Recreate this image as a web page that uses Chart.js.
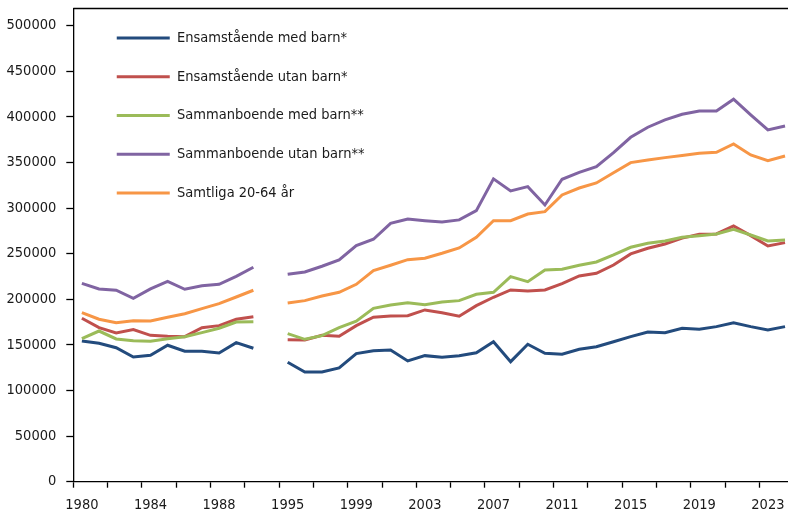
<!DOCTYPE html>
<html><head><meta charset="utf-8">
<script src="https://cdn.jsdelivr.net/npm/chart.js@4/dist/chart.umd.min.js"></script>
<style>html,body{margin:0;padding:0;background:#fff;overflow:hidden}#wrap{width:800px;height:515px}</style>
</head><body><div id="wrap"><canvas id="c" width="800" height="515"></canvas></div>
<script>
const years = ['1980','1981','1982','1983','1984','1985','1986','1987','1988','1989','1990','1991',
  '1995','1996','1997','1998','1999','2000','2001','2002','2003','2004','2005','2006','2007','2008','2009',
  '2010','2011','2012','2013','2014','2015','2016','2017','2018','2019','2020','2021','2022','2023','2024'];

const seriesNames = ['Ensamstående med barn*','Ensamstående utan barn*','Sammanboende med barn**','Sammanboende utan barn**','Samtliga 20-64 år'];

const ensamMedBarn = [154300,151800,146900,136700,138600,149600,143000,143000,141100,152400,146300,null,
  130900,120300,120300,124700,140400,143600,144400,132400,138200,136400,138200,141400,153500,131600,150700,
  140800,139700,145200,148000,153500,159000,164100,163400,168200,167100,170000,174300,170000,166300,170000];
const ensamUtanBarn = [179200,168900,163100,166700,160500,159400,159000,168900,171100,178100,180900,null,
  155700,155400,160500,159400,171100,180300,181700,182000,188300,185300,181400,193000,202200,210200,209100,
  210200,217100,225600,228500,237600,249700,255900,260600,267000,271300,271600,280400,269800,258400,262100];
const samMedBarn = [156800,165200,156500,154600,153900,156800,159000,163400,168200,175100,175400,null,
  162300,156100,160100,168900,175900,190100,193800,196300,194100,197000,198500,205500,207700,224800,219300,
  232100,232900,237300,240900,248600,257000,261400,263900,268000,269700,271600,276800,270500,263900,265000];
const samUtanBarn = [217500,211300,209900,201100,211300,219700,211000,214900,216400,225200,235100,null,
  227400,229900,236200,243100,258800,265800,283300,288000,286200,284800,287000,297200,332000,318800,323500,
  303400,331600,339200,345400,360800,377600,388600,396600,402800,406500,406500,419300,402100,385600,390000];
const samtliga = [185300,178100,174300,176500,176200,180300,184200,189700,195200,202500,209900,null,
  195900,198500,203600,207700,216400,231400,237300,243400,245000,250400,256300,268000,286200,286200,293500,
  296100,314400,322000,327500,338800,349800,352700,355300,357500,360100,361200,370300,358200,352000,357100];

const yTickValues = [0,50000,100000,150000,200000,250000,300000,350000,400000,450000,500000];

const colors = ['#234B7D','#C0504D','#9BBB59','#8064A2','#F79646'];
const seriesData = [ensamMedBarn, ensamUtanBarn, samMedBarn, samUtanBarn, samtliga];

const FONT = "'DejaVu Sans Condensed','Liberation Sans Narrow',sans-serif";
const TXT = '#1a1a1a';

const decor = {
  id: 'decor',
  afterLayout(chart) {
    if (chart.legend) { chart.legend.left += 19.2; chart.legend.top += 6.6; }
  },
  afterDraw(chart) {
    const ctx = chart.ctx;
    const a = chart.chartArea;
    ctx.save();
    ctx.strokeStyle = '#000';
    ctx.lineWidth = 1.3;
    ctx.beginPath();
    ctx.moveTo(a.left, Math.round(a.top) + 0.5);
    ctx.lineTo(a.right, Math.round(a.top) + 0.5);
    ctx.stroke();
    ctx.restore();
  }
};

new Chart(document.getElementById('c'), {
  type: 'line',
  data: {
    labels: years,
    datasets: seriesData.map((d, i) => ({
      label: seriesNames[i],
      data: d,
      borderColor: colors[i],
      backgroundColor: colors[i],
      borderWidth: 3,
      pointRadius: 0,
      tension: 0,
      spanGaps: false,
      order: 5 - i
    }))
  },
  options: {
    responsive: false,
    animation: false,
    events: [],
    layout: { padding: { left: 0, top: 8.3, right: 6.4, bottom: 0 } },
    plugins: {
      tooltip: { enabled: false },
      legend: {
        position: 'chartArea',
        fullSize: false,
        align: 'start',
        labels: {
          usePointStyle: true,
          pointStyle: 'line',
          pointStyleWidth: 53,
          padding: 24.25,
          color: TXT,
          font: { family: FONT, size: 14.5 },
          sort: (a, b) => a.datasetIndex - b.datasetIndex
        }
      }
    },
    scales: {
      x: {
        type: 'category',
        offset: true,
        grid: {
          display: true, offset: true, drawOnChartArea: false, drawTicks: true,
          tickLength: 6, tickWidth: 1.3,
          tickColor: c => (c.index % 2 === 0 ? '#000' : 'rgba(0,0,0,0)')
        },
        border: { display: true, color: '#000', width: 1.3 },
        ticks: {
          autoSkip: false, maxRotation: 0, minRotation: 0,
          padding: 9,
          color: TXT,
          font: { family: FONT, size: 14.5 },
          callback: function(v, i) { return i % 4 === 0 ? years[i] : ''; }
        },
        afterFit: s => { s.height = 33.3; }
      },
      y: {
        min: 0, max: 519000,
        grid: {
          display: true, drawOnChartArea: false, drawTicks: true,
          tickLength: 7, tickWidth: 1.3, tickColor: '#000'
        },
        border: { display: true, color: '#000', width: 1.3 },
        afterBuildTicks: s => { s.ticks = yTickValues.map(v => ({ value: v })); },
        ticks: {
          padding: 10,
          color: TXT,
          font: { family: FONT, size: 14.5 },
          callback: v => String(v)
        },
        afterFit: s => { s.width = 73.3; s.paddingTop = 0; s.paddingBottom = 0; }
      }
    }
  },
  plugins: [decor]
});
</script>
</body></html>
